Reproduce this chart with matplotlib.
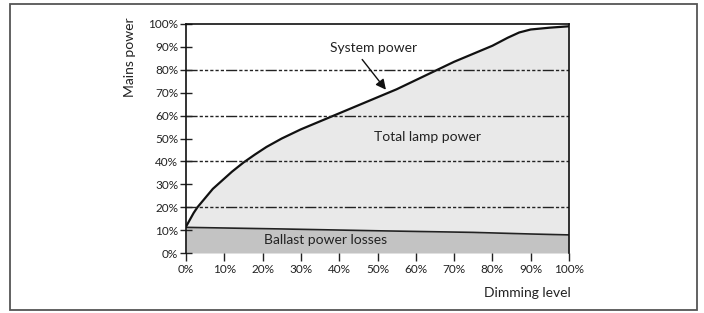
import numpy as np
import matplotlib.pyplot as plt
from matplotlib.patches import Rectangle

plt.rcParams["font.family"] = ["Lato", "DejaVu Sans"]

# ---- data ----
dim_level = [0, 1, 2, 3, 5, 7, 9, 12, 15, 18, 21, 25, 30, 35, 40, 45, 50, 55, 60, 65, 70,
             75, 80, 84, 87, 90, 95, 100]
system_power = [11.5, 14.5, 17.5, 20, 24, 28, 31, 35.5, 39.5, 43, 46.3, 50, 54, 57.5, 61,
                64.5, 68, 71.5, 75.5, 79.5, 83.5, 87, 90.5, 94, 96.3, 97.6, 98.4, 99]
ballast_dim = [0, 25, 50, 75, 90, 100]
ballast_loss = [11.2, 10.5, 9.7, 9.0, 8.3, 7.9]
ref_lines = [20, 40, 60, 80]
ticks = list(range(0, 101, 10))
tick_labels = [f"{t}%" for t in ticks]

W, H = 704, 313
fig = plt.figure(figsize=(W / 100, H / 100), dpi=100)

# outer frame
fig.patches.append(Rectangle((10 / W, 3 / H), 687 / W, 306 / H, transform=fig.transFigure,
                             fill=False, edgecolor="#555555", linewidth=1.3))

ax = fig.add_axes([186 / W, (H - 253) / H, 383 / W, 229 / H])

sys_on_ballast = np.interp(dim_level, ballast_dim, ballast_loss)
ax.fill_between(ballast_dim, 0, ballast_loss, color="#c3c3c3", linewidth=0)
ax.fill_between(dim_level, sys_on_ballast, system_power, color="#e9e9e9", linewidth=0)
ax.plot(ballast_dim, ballast_loss, color="#222222", linewidth=1.2)
ax.plot(dim_level, system_power, color="#111111", linewidth=1.6, solid_joinstyle="round")

dash_pat = (8, 1.5, 2.3, 1.5, 2.3, 1.5, 2.3, 1.5, 2.3, 1.5, 2.3, 1.5)
for v in ref_lines:
    ax.axhline(v, color="#222222", linewidth=1.0, dashes=dash_pat)

ax.set_xlim(0, 100)
ax.set_ylim(0, 100)
ax.set_xticks(ticks)
ax.set_xticklabels(tick_labels)
ax.set_yticks(ticks)
ax.set_yticklabels(tick_labels)
ax.tick_params(axis="x", direction="out", length=6, width=1, pad=2, labelsize=8.5, colors="#222222")
ax.tick_params(axis="y", direction="inout", length=9, width=1, pad=1, labelsize=8.5, colors="#222222")
ax.spines["bottom"].set_visible(False)
for s in ["left", "top", "right"]:
    ax.spines[s].set_linewidth(1.2)
    ax.spines[s].set_color("#111111")

ax.text(63, 50.5, "Total lamp power", fontsize=10, ha="center", va="center", color="#222222")
ax.text(36.5, 5.7, "Ballast power losses", fontsize=10, ha="center", va="center", color="#222222")
ax.text(49, 89.5, "System power", fontsize=10, ha="center", va="center", color="#222222")
ax.annotate("", xy=(52.2, 71.3), xytext=(46, 84.5),
            arrowprops=dict(arrowstyle="-|>", color="#111111", linewidth=1,
                            mutation_scale=15, shrinkA=0, shrinkB=0))

fig.text(130 / W, 1 - 57 / H, "Mains power", rotation=90, fontsize=10, ha="center", va="center",
         color="#222222")
fig.text(527 / W, 1 - 293 / H, "Dimming level", fontsize=10, ha="center", va="center",
         color="#222222")

fig.savefig("out.png", dpi=100)
